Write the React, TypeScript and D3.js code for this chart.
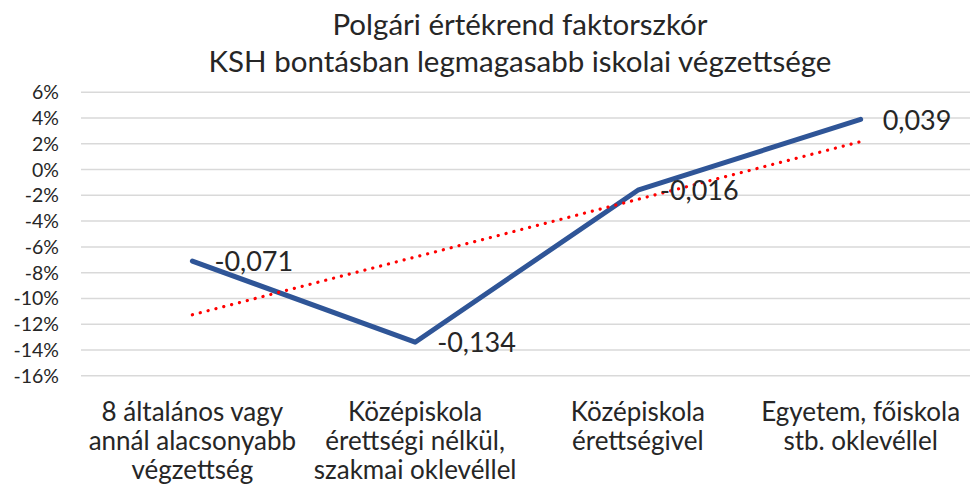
import React from "react";
import * as d3 from "d3";

const titleLines = ["Polgári értékrend faktorszkór", "KSH bontásban legmagasabb iskolai végzettsége"];
const categories = [
  ["8 általános vagy", "annál alacsonyabb", "végzettség"],
  ["Középiskola", "érettségi nélkül,", "szakmai oklevéllel"],
  ["Középiskola", "érettségivel"],
  ["Egyetem, főiskola", "stb. oklevéllel"],
];
const values = [-0.071, -0.134, -0.016, 0.039];
const valueLabels = ["-0,071", "-0,134", "-0,016", "0,039"];
const yTicks = [0.06, 0.04, 0.02, 0, -0.02, -0.04, -0.06, -0.08, -0.1, -0.12, -0.14, -0.16];

const W = 970, H = 493;
const left = 81, right = 972, top = 92.3, bottom = 375.7;
const FONT = "Lato, 'Open Sans', sans-serif";

export default function App() {
  const x = d3.scaleBand<number>().domain(values.map((_, i) => i)).range([left, right]);
  const y = d3.scaleLinear().domain([-0.16, 0.06]).range([bottom, top]);
  const cx = (i: number) => (x(i) as number) + x.bandwidth() / 2;

  const line = d3.line<number>().x((_, i) => cx(i)).y((d) => y(d));

  // linear trend line (least squares over category index)
  const n = values.length;
  const xs = values.map((_, i) => i + 1);
  const mx = d3.mean(xs) as number;
  const my = d3.mean(values) as number;
  const slope = d3.sum(xs.map((xi, i) => (xi - mx) * (values[i] - my))) / d3.sum(xs.map((xi) => (xi - mx) ** 2));
  const icpt = my - slope * mx;
  const trend = [icpt + slope * 1, icpt + slope * n];

  return (
    <svg width={W} height={H} style={{ position: "absolute", left: 0, top: 0, background: "#fff" }}>
      <rect width={W} height={H} fill="#fff" />
      {titleLines.map((t, i) => (
        <text key={i} x={520} y={35 + i * 37} textAnchor="middle" fontFamily={FONT} fontSize={29.5} fill="#262626">
          {t}
        </text>
      ))}
      {yTicks.map((t) => (
        <g key={t}>
          <line x1={left} x2={right} y1={y(t)} y2={y(t)} stroke="#d9d9d9" strokeWidth={1.5} />
          <text x={59} y={y(t)} dy="0.36em" textAnchor="end" fontFamily={FONT} fontSize={19.5} fill="#262626">
            {`${Math.round(t * 100)}%`}
          </text>
        </g>
      ))}
      <path d={line(values) as string} fill="none" stroke="#2F5597" strokeWidth={5} strokeLinecap="round" strokeLinejoin="round" />
      <line
        x1={cx(0)}
        x2={cx(n - 1)}
        y1={y(trend[0])}
        y2={y(trend[1])}
        stroke="#ff0000"
        strokeWidth={3.2}
        strokeDasharray="0.1 8"
        strokeLinecap="round"
      />
      {values.map((v, i) => (
        <text key={i} x={cx(i) + 22} y={y(v)} dy="0.38em" fontFamily={FONT} fontSize={27} fill="#262626">
          {valueLabels[i]}
        </text>
      ))}
      {categories.map((lines, i) => (
        <text key={i} textAnchor="middle" fontFamily={FONT} fontSize={26} fill="#262626">
          {lines.map((l, j) => (
            <tspan key={j} x={cx(i)} y={421 + j * 29}>
              {l}
            </tspan>
          ))}
        </text>
      ))}
    </svg>
  );
}
